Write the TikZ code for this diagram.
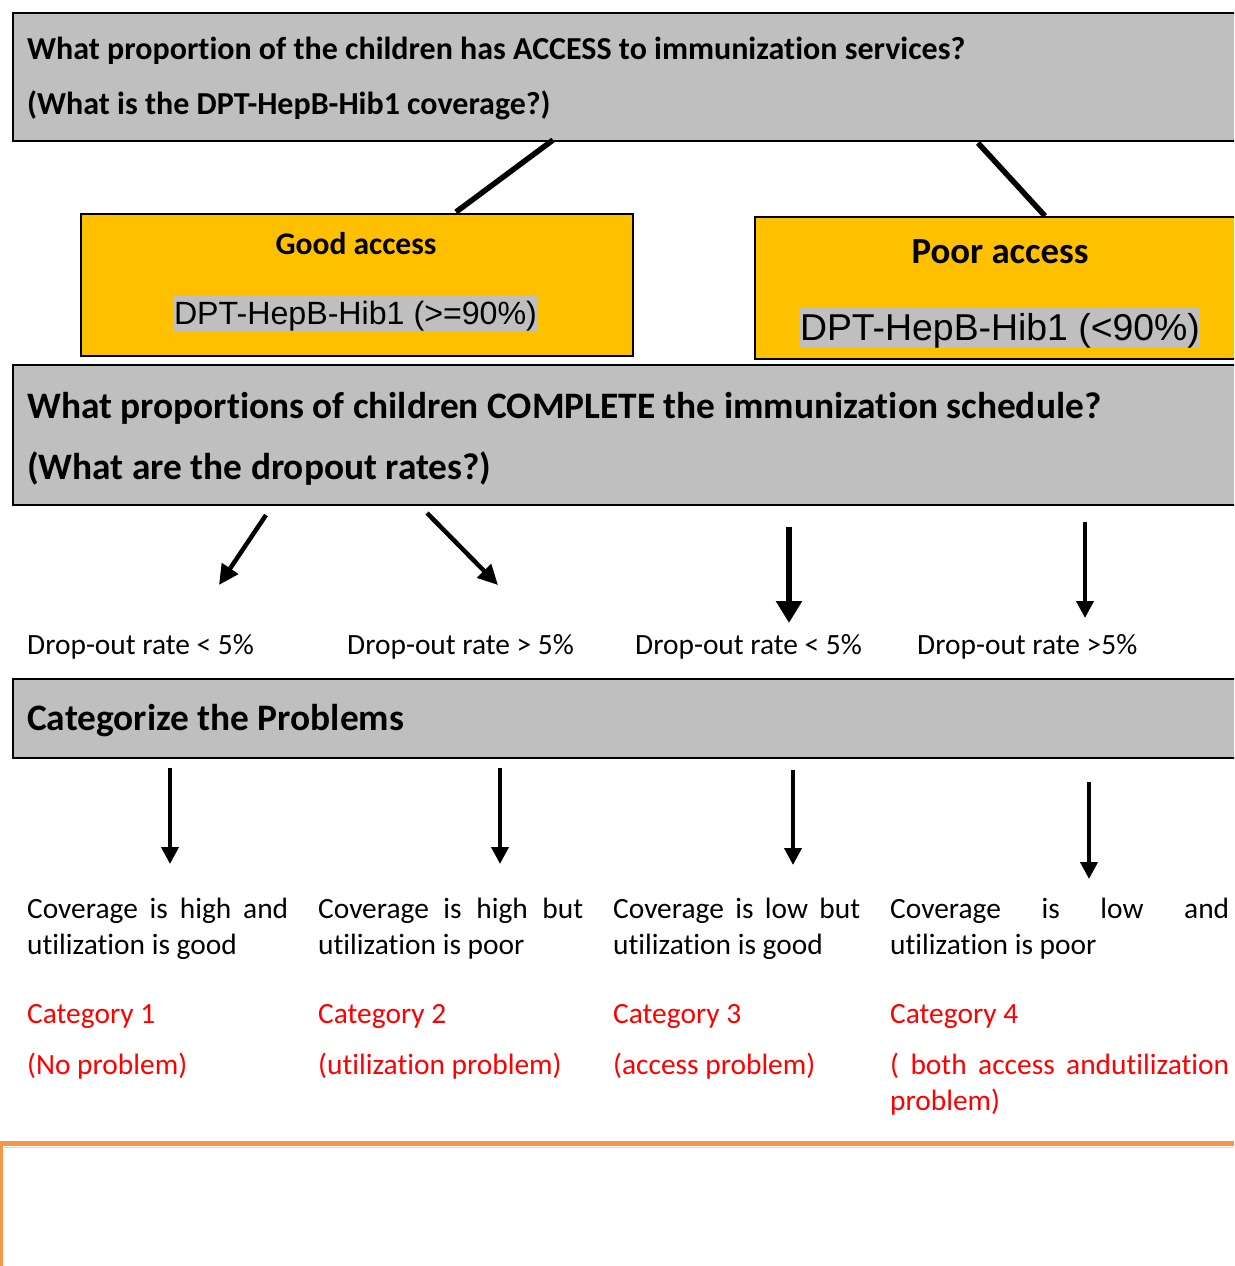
\documentclass[tikz,border=0pt]{standalone}
\usepackage{fontspec}
\setmainfont{Carlito}[Ligatures=NoCommon]
\newfontfamily\arialfont{Liberation Sans}
\usetikzlibrary{arrows.meta}

\definecolor{boxgray}{HTML}{BFBFBF}
\definecolor{amber}{HTML}{FFC000}
\definecolor{catred}{HTML}{FF0000}
\definecolor{pageorange}{HTML}{F79646}
\definecolor{paleorange}{HTML}{FBD4B4}

% size (in pt) at which #4 set in font #2 is #3 pt wide
\newlength\fitwd
\newcommand\measurefont[4]{%
  \settowidth\fitwd{\normalfont#2\fontsize{10pt}{12pt}\selectfont #4}%
  \pgfmathsetmacro#1{10*#3/\fitwd}}

\newcommand\bodyfont{\fontsize{29.4pt}{36pt}\selectfont}

\tikzset{
  graybox/.style={draw=black, fill=boxgray, line width=2pt, inner sep=0pt, anchor=north west},
  amberbox/.style={draw=black, fill=amber, line width=2pt, inner sep=0pt, anchor=north west},
  txt/.style={inner sep=0pt, anchor=base west},
  ctxt/.style={inner sep=0pt, anchor=base},
  connector/.style={line width=5.5pt},
  flowarrow/.style={line width=4.5pt, -{Triangle[length=20pt,width=19pt]}},
  bigarrow/.style={line width=6pt, -{Triangle[length=22pt,width=25pt]}},
  thinarrow/.style={line width=4pt, -{Triangle[length=17pt,width=17pt]}},
  redtxt/.style={txt, text=catred, font=\bodyfont},
  blktxt/.style={txt, font=\bodyfont},
}

\begin{document}
\measurefont\szA{\bfseries}{938}{What proportion of the children has ACCESS to immunization services?}%
\measurefont\szB{\bfseries}{1074}{What proportions of children COMPLETE the immunization schedule?}%
\measurefont\szC{\bfseries}{377}{Categorize the Problems}%
\measurefont\szG{\bfseries}{161}{Good access}%
\measurefont\szP{\bfseries}{177}{Poor access}%
\measurefont\szH{\arialfont}{363}{DPT-HepB-Hib1 (>=90\%)}%
\measurefont\szL{\arialfont}{400}{DPT-HepB-Hib1 (<90\%)}%
\begin{tikzpicture}[x=1pt, y=-1pt]
\clip (0,0) rectangle (1234,1266);
\fill[white] (0,0) rectangle (1234,1266);

% ---------- access question ----------
\node[graybox, minimum width=1240pt, minimum height=128pt] (q1) at (12,12) {};
\node[txt, font={\bfseries\fontsize{\szA pt}{\szA pt}\selectfont}] (q1a) at (27,59)
  {What proportion of the children has ACCESS to immunization services?};
\node[txt, font={\bfseries\fontsize{\szA pt}{\szA pt}\selectfont}] (q1b) at (27,114.5)
  {(What is the DPT-HepB-Hib1 coverage?)};

% ---------- access outcomes ----------
\node[amberbox, minimum width=552pt, minimum height=142pt] (good) at (80,213) {};
\node[ctxt, font={\bfseries\fontsize{\szG pt}{\szG pt}\selectfont}] (gooda) at (356,254) {Good access};
\node[ctxt, fill=boxgray, text height=0.905*\szH pt, text depth=0.212*\szH pt,
      font={\arialfont\fontsize{\szH pt}{\szH pt}\selectfont}] (goodb) at (355.5,324.5)
  {DPT-HepB-Hib1 (>=90\%)};

\node[amberbox, minimum width=500pt, minimum height=142pt] (poor) at (754,216) {};
\node[ctxt, font={\bfseries\fontsize{\szP pt}{\szP pt}\selectfont}] (poora) at (1000,263) {Poor access};
\node[ctxt, fill=boxgray, text height=0.905*\szL pt, text depth=0.212*\szL pt,
      font={\arialfont\fontsize{\szL pt}{\szL pt}\selectfont}] (poorb) at (1000,340.5)
  {DPT-HepB-Hib1 (<90\%)};

\coordinate (c1s) at (553,140);
\coordinate (c1e) at (456,212);
\coordinate (c2s) at (978,143);
\coordinate (c2e) at (1045,216);
\draw[connector] (c1s) -- (c1e);
\draw[connector] (c2s) -- (c2e);

% ---------- completion question ----------
\node[graybox, minimum width=1240pt, minimum height=140pt] (q2) at (12,364) {};
\node[txt, font={\bfseries\fontsize{\szB pt}{\szB pt}\selectfont}] (q2a) at (27,418)
  {What proportions of children COMPLETE the immunization schedule?};
\node[txt, font={\bfseries\fontsize{\szB pt}{\szB pt}\selectfont}] (q2b) at (27,479)
  {(What are the dropout rates?)};

\coordinate (d1s) at (266,515);  \coordinate (d1e) at (219,585);
\coordinate (d2s) at (427,513);  \coordinate (d2e) at (498,585);
\coordinate (d3s) at (789,527);  \coordinate (d3e) at (789,623);
\coordinate (d4s) at (1085,522); \coordinate (d4e) at (1085,618);
\draw[flowarrow] (d1s) -- (d1e);
\draw[flowarrow] (d2s) -- (d2e);
\draw[bigarrow]  (d3s) -- (d3e);
\draw[thinarrow] (d4s) -- (d4e);

\node[blktxt] (r1) at (27,654)  {Drop-out rate < 5\%};
\node[blktxt] (r2) at (347,654) {Drop-out rate > 5\%};
\node[blktxt] (r3) at (635,654) {Drop-out rate < 5\%};
\node[blktxt] (r4) at (917,654) {Drop-out rate >5\%};

% ---------- categories ----------
\node[graybox, minimum width=1240pt, minimum height=79pt] (q3) at (12,678) {};
\node[txt, font={\bfseries\fontsize{\szC pt}{\szC pt}\selectfont}] (q3a) at (27,730)
  {Categorize the Problems};

\coordinate (e1s) at (170,768);  \coordinate (e1e) at (170,864);
\coordinate (e2s) at (500,768);  \coordinate (e2e) at (500,864);
\coordinate (e3s) at (793,770);  \coordinate (e3e) at (793,865);
\coordinate (e4s) at (1089,782); \coordinate (e4e) at (1089,879);
\draw[thinarrow] (e1s) -- (e1e);
\draw[thinarrow] (e2s) -- (e2e);
\draw[thinarrow] (e3s) -- (e3e);
\draw[thinarrow] (e4s) -- (e4e);

% category 1
\node[blktxt] (k1a) at (27,918) {\makebox[261pt][s]{Coverage is high and}};
\node[blktxt] (k1b) at (27,954) {utilization is good};
\node[redtxt] (k1c) at (27,1023) {Category 1};
\node[redtxt] (k1d) at (27,1074) {(No problem)};
% category 2
\node[blktxt] (k2a) at (318,918) {\makebox[265pt][s]{Coverage is high but}};
\node[blktxt] (k2b) at (318,954) {utilization is poor};
\node[redtxt] (k2c) at (318,1023) {Category 2};
\node[redtxt] (k2d) at (318,1074) {(utilization problem)};
% category 3
\node[blktxt] (k3a) at (613,918) {\makebox[247pt][s]{Coverage is low but}};
\node[blktxt] (k3b) at (613,954) {utilization is good};
\node[redtxt] (k3c) at (613,1023) {Category 3};
\node[redtxt] (k3d) at (613,1074) {(access problem)};
% category 4
\node[blktxt] (k4a) at (890,918) {\makebox[339pt][s]{Coverage is low and}};
\node[blktxt] (k4b) at (890,954) {utilization is poor};
\node[redtxt] (k4c) at (890,1023) {Category 4};
\node[redtxt] (k4d) at (890,1074) {\makebox[339pt][s]{( both access andutilization}};
\node[redtxt] (k4e) at (890,1110) {problem)};

% ---------- page frame below ----------
\draw[paleorange, line width=1.5pt] (4,1147.5) -- (1234,1147.5);
\draw[pageorange, line width=5pt] (0,1143.5) -- (1234,1143.5);
\draw[pageorange, line width=3pt] (1.5,1141) -- (1.5,1266);
\end{tikzpicture}
\end{document}
